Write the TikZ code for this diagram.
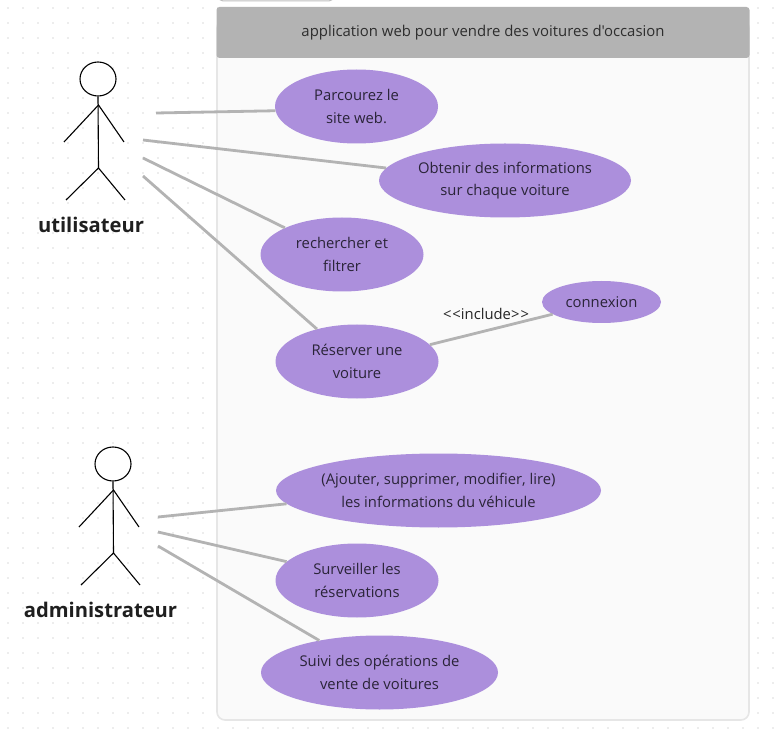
\documentclass[tikz,border=0pt]{standalone}
\usepackage{fontspec}
\newfontfamily\uifont{Open Sans}
\usepackage{xcolor}
\usetikzlibrary{shapes.geometric,positioning,calc}

\definecolor{usecasefill}{HTML}{AC8FDC}
\definecolor{headerfill}{HTML}{B3B3B3}
\definecolor{bodyfill}{HTML}{FAFAFA}
\definecolor{bodyline}{HTML}{E6E6E6}
\definecolor{griddot}{HTML}{DADADA}
\definecolor{textdark}{HTML}{2A2438}

\begin{document}
\begin{tikzpicture}[
  x=1pt, y=-1pt,
  usecase/.style={ellipse, inner ysep=0pt, inner xsep=-4pt, fill=usecasefill, align=center, text=textdark, font=\uifont\fontsize{14.8}{22.5}\selectfont},
  actorhead/.style={ellipse, draw=black, line width=1.1pt, fill=white, minimum width=36pt, minimum height=34pt, inner sep=0pt},
  limb/.style={draw=black, line width=1.1pt},
  actorname/.style={font=\uifont\fontsize{20.2}{24}\selectfont\bfseries, text=black!88},
  assoc/.style={draw=headerfill, line width=2.8pt}
]
\useasboundingbox (0,0) rectangle (780,730);

% Dotted canvas
\foreach \x in {8,23,...,773} {
  \foreach \y in {8,23,...,728} {
    \fill[griddot] (\x,\y) circle (0.8);
  }
}

% System box
\draw[draw=black!25, fill=white, line width=1pt, rounded corners=4pt] (219,-8) rectangle (333,1);
\draw[draw=bodyline, fill=bodyfill, line width=1.6pt, rounded corners=8pt] (217,20) rectangle (749,720);
\node[draw=none, fill=headerfill, rounded corners=3pt, minimum width=533pt, minimum height=51pt, inner sep=0pt,
  font=\uifont\fontsize{14.9}{22}\selectfont, text=black!82] (sys) at (483,32.5) {application web pour vendre des voitures d'occasion};

% Use cases
\foreach \name/\cx/\cy/\w/\h/\txt in {
  parcourir/356.5/106.5/163/74/{Parcourez le\\ site web.},
  obtenir/505/180.5/252/74/{Obtenir des informations\\ sur chaque voiture},
  rechercher/342/254.5/163/74/{rechercher et\\ filtrer},
  reserver/357/361.5/163/74/{Réserver une\\ voiture},
  connexion/601.5/302/119/42/{connexion},
  ajouter/438.5/490.5/325/74/{(Ajouter, supprimer, modifier, lire)\\ les informations du véhicule},
  surveiller/357/580.5/163/74/{Surveiller les\\ réservations},
  suivi/379.5/672.5/237/74/{Suivi des opérations de\\ vente de voitures}} {
  \node[usecase, minimum width=\w pt, minimum height=\h pt] (\name) at (\cx,\cy) {\txt};
}

% Actors
\foreach \name/\hx/\hy/\lab/\lx in {user/98/79/utilisateur/91, admin/113/464/administrateur/100.5} {
  \node[actorhead] (head\name) at (\hx,\hy) {};
  \coordinate (neck\name) at ($(\hx,\hy)+(0.5,26)$);
  \coordinate (hip\name) at ($(\hx,\hy)+(0.5,89)$);
  \draw[limb] (head\name.south) -- (hip\name);
  \draw[limb] ($(\hx,\hy)+(-34,63)$) -- (neck\name) -- ($(\hx,\hy)+(26,63)$);
  \draw[limb] ($(\hx,\hy)+(-32,121)$) -- (hip\name) -- ($(\hx,\hy)+(27,121)$);
  \node[actorname] (label\name) at ($(\lx,\hy)+(0,146)$) {\lab};
}

% Free ends of the associations
\coordinate (u1) at (156,113);
\coordinate (u2) at (143,140);
\coordinate (u3) at (143,158);
\coordinate (u4) at (143,176);
\coordinate (a1) at (158,517);
\coordinate (a2) at (158,532);
\coordinate (a3) at (158,546);

% Associations
\draw[assoc] (u1) -- (parcourir.183);
\draw[assoc] (u2) -- (obtenir.174);
\draw[assoc] (u3) -- (rechercher.155);
\draw[assoc] (u4) -- (reserver.141);
\draw[assoc] (a1) -- (ajouter.185);
\draw[assoc] (a2) -- (surveiller.165);
\draw[assoc] (a3) -- (suivi.152);

% Include
\draw[assoc] (reserver.13) -- (connexion.194);
\node[font=\uifont\fontsize{14.8}{16}\selectfont, text=black!85, inner sep=0pt] (incl) at (486,313.5) {<\kern1pt<include>\kern1pt>};
\end{tikzpicture}
\end{document}
